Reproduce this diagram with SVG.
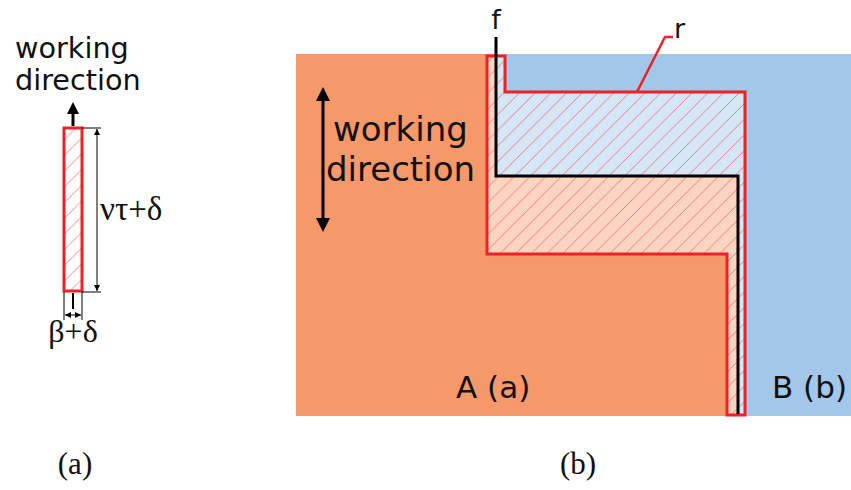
<svg xmlns="http://www.w3.org/2000/svg" width="851" height="490" viewBox="0 0 851 490">
<style>
.lbl{font-family:"DejaVu Sans",Verdana,sans-serif;fill:#111}
.tms{font-family:"Liberation Serif","Times New Roman",serif;fill:#111}
.thin{stroke:#000;stroke-width:1;fill:none}
.red{stroke:#ee2226;stroke-width:3;fill:none}
</style>
<defs>
<pattern id="hatch" patternUnits="userSpaceOnUse" width="15.7" height="15.7">
<path d="M-2,17.7 L17.7,-2 M-2,2 L2,-2 M13.7,17.7 L17.7,13.7" stroke="#f0606a" stroke-width="0.8"/>
</pattern>
<marker id="ah" viewBox="0 0 10 10" refX="10" refY="5" markerWidth="6" markerHeight="6" orient="auto-start-reverse" markerUnits="userSpaceOnUse">
<path d="M0,0 L10,5 L0,10 Z" fill="#000"/>
</marker>
</defs>

<g id="panel-a">
<rect x="64" y="128" width="18" height="163" fill="#fff"/>
<rect x="64" y="128" width="18" height="163" fill="url(#hatch)"/>
<rect x="64" y="128" width="18" height="163" class="red"/>
<line x1="73" y1="126" x2="73" y2="112" stroke="#000" stroke-width="3"/>
<path d="M67,114 L73,102 L79,114 Z" fill="#000"/>
<line x1="82" y1="128" x2="101" y2="128" class="thin"/>
<line x1="82" y1="292" x2="101" y2="292" class="thin"/>
<line x1="97" y1="129" x2="97" y2="291" class="thin" marker-start="url(#ah)" marker-end="url(#ah)"/>
<line x1="64" y1="292" x2="64" y2="320" class="thin"/>
<line x1="82" y1="292" x2="82" y2="320" class="thin"/>
<line x1="65" y1="315" x2="81" y2="315" class="thin" marker-start="url(#ah)" marker-end="url(#ah)"/>
<line x1="73" y1="293" x2="73" y2="309" stroke="#000" stroke-width="2"/>
<text class="lbl" x="15" y="58" font-size="28.7">working</text>
<text class="lbl" x="15" y="90" font-size="28.7">direction</text>
<text class="tms" x="100" y="220" font-size="33">ντ+δ</text>
<text class="tms" x="73" y="342" font-size="32" text-anchor="middle">β+δ</text>
<text class="tms" x="75" y="474" font-size="31" text-anchor="middle">(a)</text>
</g>

<g id="region-B">
<rect x="296" y="54" width="555" height="362" fill="#a2c7e9"/>
</g>
<g id="region-A">
<path d="M296,54 L496,54 L496,176 L738,176 L738,416 L296,416 Z" fill="#f5986a"/>
</g>
<g id="region-r">
<path d="M487,56 L496,56 L496,176 L738,176 L738,415 L727,415 L727,254 L487,254 Z" fill="#fcd5c1"/>
<path d="M496,56 L505,56 L505,92 L745,92 L745,415 L738,415 L738,176 L496,176 Z" fill="#d5e6f6"/>
<path d="M487,56 L505,56 L505,92 L745,92 L745,415 L727,415 L727,254 L487,254 Z" fill="url(#hatch)"/>
<path d="M487,56 L505,56 L505,92 L745,92 L745,415 L727,415 L727,254 L487,254 Z" class="red"/>
</g>
<g id="connectors">
<path d="M496,37 L496,176 L738,176 L738,414" stroke="#000" stroke-width="3" fill="none"/>
<path d="M637,92 L665,37 L673,37" stroke="#ee2226" stroke-width="2.5" fill="none"/>
<line x1="323" y1="100" x2="323" y2="219" stroke="#000" stroke-width="3"/>
<path d="M316,101 L323,87 L330,101 Z" fill="#000"/>
<path d="M316,218 L323,232 L330,218 Z" fill="#000"/>
</g>
<g id="labels-b">
<text class="lbl" x="496" y="29" font-size="27" text-anchor="middle">f</text>
<text class="lbl" x="674" y="38" font-size="27">r</text>
<text class="lbl" x="333" y="141" font-size="34">working</text>
<text class="lbl" x="326" y="181" font-size="34">direction</text>
<text class="lbl" x="456" y="398" font-size="31">A (a)</text>
<text class="lbl" x="772" y="398" font-size="31">B (b)</text>
<text class="tms" x="578" y="474" font-size="31" text-anchor="middle">(b)</text>
</g>
</svg>
